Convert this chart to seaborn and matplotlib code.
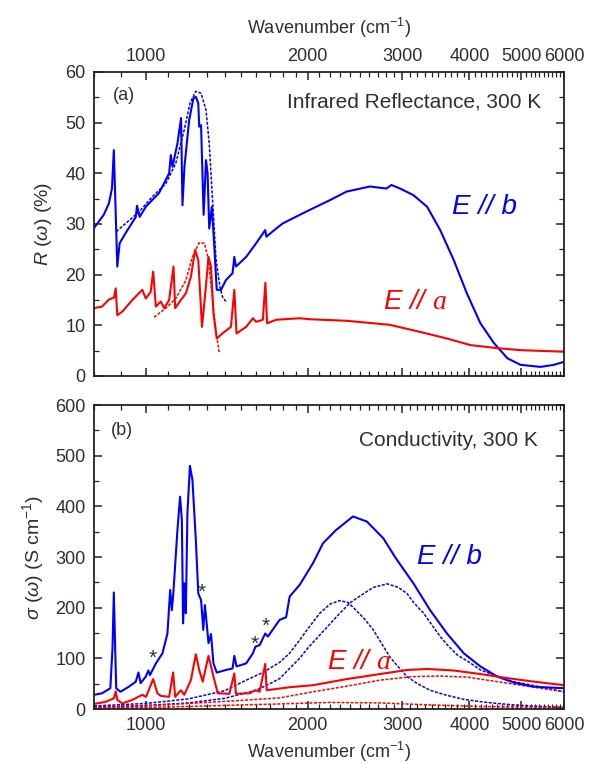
import numpy as np
import pandas as pd
import matplotlib
matplotlib.use("Agg")
import matplotlib.pyplot as plt
import seaborn as sns
from matplotlib.ticker import FixedLocator, FixedFormatter, NullFormatter, MultipleLocator

# ---------------- data ----------------
# Panel (a): reflectance, E // b (solid)
wn_Rb = [800, 834, 853, 864, 871, 884, 893, 916, 957, 962, 973, 999, 1020, 1057, 1104, 1112, 1120,
         1144, 1162, 1169, 1179, 1203, 1225, 1238, 1251, 1256, 1266, 1280, 1293, 1302, 1311, 1326,
         1340, 1354, 1379, 1408, 1449, 1460, 1470, 1536, 1603, 1667, 1675, 1747, 1796, 1932, 2046,
         2199, 2363, 2611, 2803, 2863, 2971, 3146, 3337, 3529, 3739, 3957, 4193, 4443, 4707, 4980,
         5428, 5743, 6000]
R_b = [29.2, 31.8, 34.1, 37.0, 44.6, 21.6, 26.2, 28.2, 31.4, 33.6, 31.4, 33.4, 34.4, 36.1, 40.0, 43.6, 41.3,
       45.9, 50.9, 33.7, 41.3, 50.5, 54.8, 55.1, 53.8, 49.2, 49.5, 31.8, 42.6, 40.0, 29.1, 33.4,
       25.5, 17.0, 17.0, 18.9, 20.3, 23.5, 21.6, 23.5, 26.2, 28.8, 27.5, 29.1, 30.1, 31.8, 33.1,
       34.7, 36.4, 37.4, 37.0, 37.7, 37.0, 35.7, 33.4, 28.8, 22.9, 16.3, 10.4, 6.5, 3.5, 2.2,
       1.8, 2.2, 2.8]

# Panel (a): reflectance, E // a (solid)
wn_Ra = [800, 828, 853, 872, 878, 884, 903, 943, 984, 999, 1020, 1031, 1043, 1065, 1081, 1104, 1125,
         1133, 1161, 1186, 1212, 1234, 1251, 1271, 1289, 1307, 1321, 1335, 1354, 1387, 1439, 1460,
         1474, 1536, 1581, 1603, 1650, 1668, 1680, 1747, 1932, 2019, 2363, 2843, 3238, 3633, 4017,
         4507, 4980, 6000]
R_a = [13.4, 13.7, 15.1, 15.5, 17.3, 12.0, 12.7, 15.0, 17.0, 15.3, 16.6, 20.6, 13.7, 14.7, 13.4, 15.0, 21.6,
       13.4, 15.0, 16.3, 19.6, 24.9, 22.9, 9.7, 16.3, 23.5, 21.6, 12.4, 7.4, 8.4, 9.7, 17.0,
       8.4, 9.7, 11.4, 10.7, 11.1, 18.4, 10.4, 11.1, 11.4, 11.2, 10.9, 10.1, 8.7, 7.4, 6.1,
       5.5, 5.1, 4.8]

# Panel (a): fits (dashed)
wn_Rb_fit = [880, 916, 970, 1028, 1089, 1136, 1178, 1207, 1238, 1266, 1293, 1311, 1330, 1350, 1373, 1387, 1408]
R_b_fit = [28.5, 30.1, 32.4, 35.4, 38.0, 42.0, 48.6, 53.8, 56.2, 55.8, 52.5, 45.9, 34.7, 22.9, 17.6, 15.7, 14.7]
wn_Ra_fit = [1035, 1089, 1136, 1186, 1220, 1256, 1284, 1307, 1326, 1346, 1369]
R_a_fit = [11.6, 13.4, 15.3, 18.9, 23.5, 26.3, 26.2, 22.9, 16.3, 9.7, 4.5]

# Panel (b): conductivity, E // b (solid)
wn_Sb = [800, 828, 858, 866, 871, 876, 880, 896, 929, 957, 968, 977, 999, 1010, 1017, 1043, 1073, 1096,
         1109, 1117, 1124, 1144, 1157, 1166, 1172, 1179, 1186, 1194, 1207, 1220, 1238, 1251, 1266,
         1278, 1287, 1295, 1307, 1321, 1335, 1354, 1408, 1449, 1460, 1474, 1536, 1581, 1598, 1627,
         1667, 1686, 1773, 1823, 1851, 1932, 2019, 2046, 2135, 2257, 2428, 2577, 2765, 2920, 3146,
         3380, 3633, 3904, 4193, 4507, 4841, 5272, 6000]
S_b = [28, 31, 41, 120, 230, 120, 41, 34, 44, 54, 72, 51, 64, 76, 67, 90, 110, 149,
       235, 195, 228, 353, 419, 373, 169, 248, 189, 386, 480, 452, 333, 228, 215,
       156, 205, 176, 130, 148, 90, 72, 77, 80, 105, 84, 90, 110, 123, 126,
       149, 143, 176, 181, 222, 245, 278, 288, 327, 353, 380, 370, 337, 297, 248,
       195, 149, 110, 84, 64, 52, 44, 41]

# Panel (b): conductivity, E // a (solid)
wn_Sa = [800, 840, 871, 878, 884, 903, 943, 984, 1000, 1031, 1050, 1065, 1104, 1123, 1133, 1161, 1178,
         1212, 1238, 1256, 1275, 1307, 1335, 1360, 1429, 1460, 1470, 1558, 1598, 1627, 1667, 1677,
         1851, 2046, 2363, 2726, 3060, 3337, 3739, 4193, 4707, 5272, 6000]
S_a = [10, 14, 21, 35, 18, 11, 18, 28, 24, 59, 31, 26, 24, 72, 24, 37, 28,
       57, 108, 77, 54, 105, 64, 31, 30, 70, 30, 31, 37, 34, 89, 37,
       43, 47, 59, 69, 77, 79, 76, 69, 61, 54, 47]

# Panel (b): oscillator components (dashed)
wn_b1 = [800, 1000, 1200, 1400, 1558, 1650, 1773, 1850, 1932, 2000, 2106, 2200, 2295, 2380, 2459,
         2550, 2650, 2750, 2843, 2950, 3060, 3200, 3380, 3600, 3904, 4300, 4841, 5200, 6000]
S_b1 = [6, 11, 20, 36, 60, 72, 92, 110, 136, 158, 189, 207, 214, 210, 195,
        178, 156, 128, 103, 83, 64, 50, 37, 28, 19, 13, 8, 6, 3]
wn_b2 = [800, 1000, 1200, 1400, 1603, 1700, 1773, 1850, 1932, 2000, 2106, 2200, 2295, 2400, 2544,
         2650, 2812, 2950, 3060, 3150, 3287, 3400, 3529, 3650, 3793, 4000, 4193, 4500, 4841, 5400, 6000]
S_b2 = [4, 7, 12, 21, 37, 50, 60, 80, 100, 120, 146, 168, 189, 210, 228,
        240, 247, 240, 228, 210, 189, 167, 143, 125, 107, 92, 77, 65, 54, 44, 34]
wn_a1 = [800, 1000, 1203, 1400, 1558, 1773, 2046, 2363, 2726, 3146, 3529, 3957, 4507, 5197, 6000]
S_a1 = [3, 6, 11, 15, 18, 22, 34, 45, 57, 64, 65, 63, 54, 44, 34]
wn_a2 = [800, 1000, 1203, 1500, 1773, 2199, 2726, 3380, 4193, 6000]
S_a2 = [2, 3, 5, 8, 10, 13, 12, 8, 5, 3]

# asterisks marking features in panel (b)
star_wn = [1031, 1268, 1591, 1667]
star_S = [100, 230, 127, 163]

major_x = [1000, 2000, 3000, 4000, 5000, 6000]
major_x_labels = ["1000", "2000", "3000", "4000", "5000", "6000"]
minor_x = [w for w in range(800, 6000, 100) if w not in major_x]

# ---------------- style ----------------
sns.set_theme(style="ticks")
plt.rcParams["font.family"] = ["Liberation Sans", "DejaVu Sans"]
plt.rcParams["mathtext.fontset"] = "custom"
plt.rcParams["mathtext.rm"] = "Liberation Sans"
plt.rcParams["mathtext.it"] = "Liberation Sans:italic"
plt.rcParams["mathtext.sf"] = "Liberation Serif:italic"

TXT = "#332c2c"
BLUE = "#0000ff"
RED = "#ff0000"
DASH = (0, (2.0, 1.0))

fig = plt.figure(figsize=(5.96, 7.64), dpi=100)
axA = fig.add_axes([94 / 596, 1 - 376 / 764, 470 / 596, 304 / 764])
axB = fig.add_axes([94 / 596, 1 - 709 / 764, 470 / 596, 304 / 764])

for ax in (axA, axB):
    ax.set_xscale("log")


def line(ax, x, y, color, dashed=False):
    df = pd.DataFrame({"x": x, "y": y})
    if dashed:
        sns.lineplot(data=df, x="x", y="y", ax=ax, color=color, lw=1.1, sort=False,
                     estimator=None, linestyle=DASH)
    else:
        sns.lineplot(data=df, x="x", y="y", ax=ax, color=color, lw=1.5, sort=False,
                     estimator=None)


line(axA, wn_Rb, R_b, BLUE)
line(axA, wn_Ra, R_a, RED)
line(axA, wn_Rb_fit, R_b_fit, BLUE, dashed=True)
line(axA, wn_Ra_fit, R_a_fit, RED, dashed=True)

line(axB, wn_b1, S_b1, BLUE, dashed=True)
line(axB, wn_b2, S_b2, BLUE, dashed=True)
line(axB, wn_a1, S_a1, RED, dashed=True)
line(axB, wn_a2, S_a2, RED, dashed=True)
line(axB, wn_Sb, S_b, BLUE)
line(axB, wn_Sa, S_a, RED)

for ax in (axA, axB):
    ax.set_xlim(800, 6000)
    ax.xaxis.set_major_locator(FixedLocator(major_x))
    ax.xaxis.set_major_formatter(FixedFormatter(major_x_labels))
    ax.xaxis.set_minor_locator(FixedLocator(minor_x))
    ax.xaxis.set_minor_formatter(NullFormatter())
    ax.tick_params(which="both", direction="in", top=True, right=True, bottom=True, left=True,
                   colors="#222222", labelcolor=TXT, labelsize=13)
    ax.tick_params(which="major", length=6, width=1.1, pad=6)
    ax.tick_params(which="minor", length=3.5, width=0.9)
    for s in ax.spines.values():
        s.set_linewidth(1.3)
        s.set_color("#222222")

axA.set_ylim(0, 60)
axA.yaxis.set_major_locator(MultipleLocator(10))
axA.yaxis.set_minor_locator(MultipleLocator(5))
axA.tick_params(axis="x", which="both", labeltop=True, labelbottom=False, pad=5)
axA.xaxis.set_label_position("top")
axA.set_xlabel(r"Wavenumber (cm$^{-1}$)", fontsize=13, color=TXT, labelpad=10)
axA.set_ylabel(r"$R$ ($\omega$) (%)", fontsize=14, color=TXT, labelpad=8)

axB.set_ylim(0, 600)
axB.yaxis.set_major_locator(MultipleLocator(100))
axB.yaxis.set_minor_locator(MultipleLocator(50))
axB.tick_params(axis="x", which="both", labeltop=False, labelbottom=True)
axB.set_xlabel(r"Wavenumber (cm$^{-1}$)", fontsize=13, color=TXT, labelpad=4)
axB.set_ylabel(r"$\sigma$ ($\omega$) (S cm$^{-1}$)", fontsize=14, color=TXT, labelpad=7)

# annotations
axA.text(0.063, 0.924, "(a)", transform=axA.transAxes, fontsize=13, color=TXT, ha="center", va="center")
axA.text(0.9525, 0.902, "Infrared Reflectance, 300 K", transform=axA.transAxes, fontsize=15,
         color=TXT, ha="right", va="center")
axA.text(0.830, 0.556, "E // b", transform=axA.transAxes, fontsize=20, color=BLUE,
         style="italic", ha="center", va="center")
axA.text(0.683, 0.243, r"E // $\mathsf{a}$", transform=axA.transAxes, fontsize=20, color=RED,
         style="italic", ha="center", va="center")

axB.text(0.0585, 0.916, "(b)", transform=axB.transAxes, fontsize=13, color=TXT, ha="center", va="center")
axB.text(0.945, 0.883, "Conductivity, 300 K", transform=axB.transAxes, fontsize=15,
         color=TXT, ha="right", va="center")
axB.text(0.757, 0.50, "E // b", transform=axB.transAxes, fontsize=20, color=BLUE,
         style="italic", ha="center", va="center")
axB.text(0.563, 0.155, r"E // $\mathsf{a}$", transform=axB.transAxes, fontsize=20, color=RED,
         style="italic", ha="center", va="center")
for w, s in zip(star_wn, star_S):
    axB.text(w, s, "*", fontsize=15, color=TXT, ha="center", va="center")

fig.savefig("out.png", dpi=100)
